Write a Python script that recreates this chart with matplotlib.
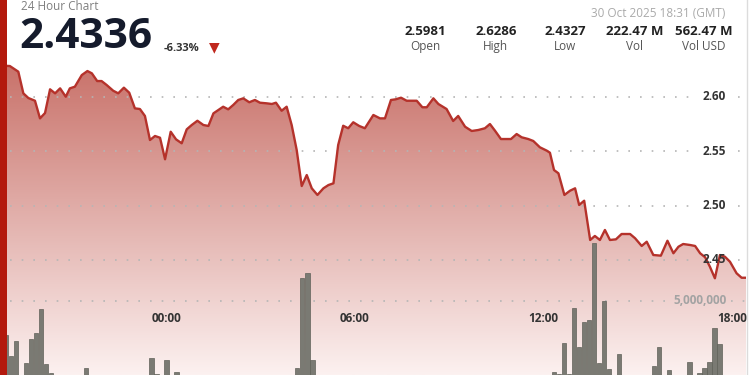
import matplotlib
matplotlib.use("Agg")
import matplotlib.pyplot as plt
import numpy as np
from matplotlib.patches import Rectangle
from matplotlib.lines import Line2D
import matplotlib.transforms as mtransforms

plt.rcParams['font.family'] = ['Open Sans', 'DejaVu Sans']

# ---------------- data ----------------
# hours relative to 30 Oct 2025 00:00 (negative = 29 Oct)
price_hours = [-5.48, -4.98, -4.71, -4.55, -4.39, -4.18, -4.02, -3.86, -3.70, -3.54,
               -3.38, -3.20, -3.07, -2.91, -2.69, -2.51, -2.37, -2.20, -2.06, -1.90,
               -1.69, -1.53, -1.35, -1.18, -1.00, -0.84, -0.68, -0.52, -0.36, -0.20,
               -0.04, 0.14, 0.31, 0.49, 0.65, 0.81, 0.99, 1.18, 1.34, 1.50,
               1.66, 1.81, 1.97, 2.13, 2.29, 2.45, 2.64, 2.82, 2.98, 3.20,
               3.36, 3.49, 3.67, 3.83, 3.99, 4.15, 4.31, 4.47, 4.63, 4.81,
               5.00, 5.16, 5.32, 5.47, 5.63, 5.79, 5.95, 6.14, 6.32, 6.59,
               6.80, 6.96, 7.15, 7.30, 7.47, 7.65, 7.97, 8.15, 8.29, 8.50,
               8.66, 8.92, 9.13, 9.29, 9.51, 9.72, 9.93, 10.14, 10.30, 10.46,
               10.65, 10.83, 10.97, 11.15, 11.31, 11.52, 11.68, 11.89, 12.11, 12.21,
               12.34, 12.48, 12.67, 12.85, 13.01, 13.14, 13.30, 13.49, 13.64, 13.80,
               13.96, 14.12, 14.31, 14.49, 14.76, 14.92, 15.13, 15.29, 15.50, 15.74,
               15.95, 16.14, 16.30, 16.45, 16.67, 16.83, 16.99, 17.15, 17.30, 17.46,
               17.62, 17.78, 17.94, 18.15, 18.31, 18.52]
price_values = [2.6290, 2.6282, 2.6230, 2.6031, 2.5988, 2.5963, 2.5801, 2.5850, 2.6068, 2.6031,
                2.6077, 2.6000, 2.6077, 2.6092, 2.6199, 2.6236, 2.6215, 2.6144, 2.6144, 2.6108,
                2.6055, 2.6031, 2.6083, 2.6037, 2.5893, 2.5887, 2.5823, 2.5602, 2.5639, 2.5623,
                2.5425, 2.5678, 2.5608, 2.5572, 2.5700, 2.5740, 2.5779, 2.5740, 2.5731, 2.5847,
                2.5878, 2.5908, 2.5884, 2.5924, 2.5970, 2.5985, 2.5949, 2.5970, 2.5945, 2.5939,
                2.5933, 2.5945, 2.5871, 2.5908, 2.5740, 2.5510, 2.5179, 2.5280, 2.5158, 2.5097,
                2.5158, 2.5188, 2.5204, 2.5556, 2.5733, 2.5710, 2.5765, 2.5731, 2.5710, 2.5832,
                2.5801, 2.5801, 2.5970, 2.5976, 2.5991, 2.5963, 2.5963, 2.5903, 2.5903, 2.5985,
                2.5933, 2.5887, 2.5777, 2.5823, 2.5724, 2.5685, 2.5694, 2.5710, 2.5749, 2.5688,
                2.5611, 2.5611, 2.5611, 2.5657, 2.5627, 2.5611, 2.5593, 2.5535, 2.5504, 2.5485,
                2.5326, 2.5296, 2.5097, 2.5136, 2.5158, 2.5005, 2.5044, 2.4683, 2.4720, 2.4683,
                2.4775, 2.4683, 2.4689, 2.4738, 2.4738, 2.4699, 2.4628, 2.4667, 2.4545, 2.4539,
                2.4676, 2.4561, 2.4621, 2.4646, 2.4637, 2.4628, 2.4561, 2.4524, 2.4438, 2.4331,
                2.4545, 2.4529, 2.4483, 2.4377, 2.4336, 2.4336]

# volume (millions) per 9.6-minute interval, starting 29 Oct 18:30
vol_start_hour = -5.5
vol_step_minutes = 9.6
volume_millions = [0, 0, 2.70, 1.28, 2.30, 0, 0.81, 2.43, 2.84, 4.46,
                   0.74, 0.14, 0, 0, 0, 0, 0, 0, 0.47, 0,
                   0, 0, 0, 0, 0, 0, 0, 0, 0, 0,
                   0, 1.15, 0.07, 0, 1.01, 0, 0.20, 0, 0, 0,
                   0, 0, 0, 0, 0, 0, 0, 0, 0, 0,
                   0, 0, 0, 0, 0, 0, 0, 0, 0, 0,
                   0.47, 6.55, 6.89, 1.01, 0, 0, 0, 0, 0, 0,
                   0, 0, 0, 0, 0, 0, 0, 0, 0, 0,
                   0, 0, 0, 0, 0, 0, 0, 0, 0, 0,
                   0, 0, 0, 0, 0, 0, 0, 0, 0, 0,
                   0, 0, 0, 0, 0, 0, 0, 0, 0, 0,
                   0, 0.20, 0.07, 2.16, 0.07, 4.53, 1.89, 3.58, 3.72, 8.92,
                   0.81, 5.00, 0.41, 0, 1.42, 0, 0, 0, 0, 0,
                   0, 0.61, 1.89, 0, 0.34, 0, 0, 0, 0.88, 0,
                   0.14, 0.47, 0.88, 3.18, 2.09, 0, 0, 0, 0, 0]

price_ticks = [2.60, 2.55, 2.50, 2.45]
time_ticks = [0, 6, 12, 18]
time_labels = ["00:00", "06:00", "12:00", "18:00"]
volume_tick = 5.0
volume_tick_label = "5,000,000"

last_price = "2.4336"
change_text = "-6.33%"
date_text = "30 Oct 2025 18:31 (GMT)"
stat_values = ["2.5981", "2.6286", "2.4327", "222.47 M", "562.47 M"]
stat_names = ["Open", "High", "Low", "Vol", "Vol USD"]

# ---------------- figure ----------------
W, H = 750, 375
fig = plt.figure(figsize=(W / 100, H / 100), dpi=100, facecolor="white")
ax = fig.add_axes([0, 0, 746 / W, 1])
ax.set_facecolor("white")
xmin, xmax = -5.293, 18.45
ymin, ymax = 2.3442, 2.6889
ax.set_xlim(xmin, xmax)
ax.set_ylim(ymin, ymax)
ax.axis("off")

# gradient fill under the line
poly = ax.fill_between(price_hours, price_values, ymin, color="none", lw=0)
path = poly.get_paths()[0]
c_top = np.array([200, 112, 104]) / 255
c_bot = np.array([252, 241, 240]) / 255
t = np.linspace(0, 1, 256).reshape(-1, 1, 1)
grad = c_top * (1 - t) + c_bot * t
grad_top = 2.60 + (96.7 - 60) / 1088
img = ax.imshow(grad, extent=[xmin, xmax, ymin, grad_top], aspect="auto",
                origin="upper", zorder=1, interpolation="bilinear")
img.set_clip_path(path, transform=ax.transData)
ax.set_xlim(xmin, xmax)
ax.set_ylim(ymin, ymax)

# dotted gridlines with gaps for labels
px2h = lambda px: (px - 166.3) / 31.42
dot = dict(color="#b5b5b5", lw=1.2, linestyle=(0, (1, 6)), zorder=2)
for p in price_ticks:
    ax.plot([px2h(10), px2h(695)], [p, p], **dot)
    ax.plot([px2h(738), xmax], [p, p], **dot)

ax.plot(price_hours, price_values, color="#b5322b", lw=1.7, zorder=4,
        solid_joinstyle="round")

for p in price_ticks:
    ax.text(px2h(714), p, f"{p:.2f}", ha="center", va="center", fontsize=8.5,
            fontweight="bold", color="#333333", zorder=5)

# volume axis
ax2 = ax.twinx()
ax2.set_position([0, 0, 746 / W, 1])
ax2.set_xlim(xmin, xmax)
ax2.set_ylim(0, 5.0 * 375 / 74)
ax2.axis("off")
step_h = vol_step_minutes / 60
vol_x = [vol_start_hour + i * step_h for i in range(len(volume_millions))]
ax2.bar(vol_x, volume_millions, width=step_h * 0.86, align="edge",
        color="#7a7a73", edgecolor="#606159", linewidth=0.5, zorder=3)
ax2.plot([px2h(10), px2h(668)], [volume_tick, volume_tick], **dot)
ax2.plot([px2h(731), xmax], [volume_tick, volume_tick], **dot)
ax2.text(px2h(700), volume_tick, volume_tick_label, ha="center", va="center",
         fontsize=8.5, fontweight="bold", color="#a3a3a3", zorder=5)

trans = mtransforms.blended_transform_factory(ax2.transData, ax2.transAxes)
for h, lab in zip(time_ticks, time_labels):
    ax2.text(h, 1 - 319 / H, lab, transform=trans, ha="center", va="center",
             fontsize=8.5, fontweight="bold", color="#333333", zorder=5)

# ---------------- header ----------------
def ft(x, y, s, **kw):
    fig.text(x / W, 1 - y / H, s, **kw)

ft(20.7, 6.5, "24 Hour Chart", ha="left", va="center", fontsize=8.5, color="#808080")
ft(19.5, 37.5, last_price, ha="left", va="center", fontsize=30.5,
   fontweight="bold", color="#151b2c")
ft(164, 48.5, change_text, ha="left", va="center", fontsize=8, fontweight="bold",
   color="#333333")
ft(214.5, 47.5, "▼", ha="center", va="center", fontsize=10, color="#c0281e",
   family="DejaVu Sans")
ft(725, 13.3, date_text, ha="right", va="center", fontsize=8.5, color="#aaaaaa")
stat_x = [425.8, 495.8, 565, 635, 704]
for x, v, n in zip(stat_x, stat_values, stat_names):
    ft(x, 31.7, v, ha="center", va="center", fontsize=9.5, fontweight="bold",
       color="#222222")
    ft(x, 46.7, n, ha="center", va="center", fontsize=8.5, color="#555555")

# left red bar and right border
fig.patches.append(Rectangle((0, 0), 7 / W, 1, transform=fig.transFigure,
                             facecolor="#b3190d", edgecolor="none", zorder=10))
fig.lines.append(Line2D([746.5 / W, 746.5 / W], [0, 1], transform=fig.transFigure,
                        color="#dcdcdc", lw=1, zorder=10))

fig.savefig("out.png", dpi=100, facecolor="white")
